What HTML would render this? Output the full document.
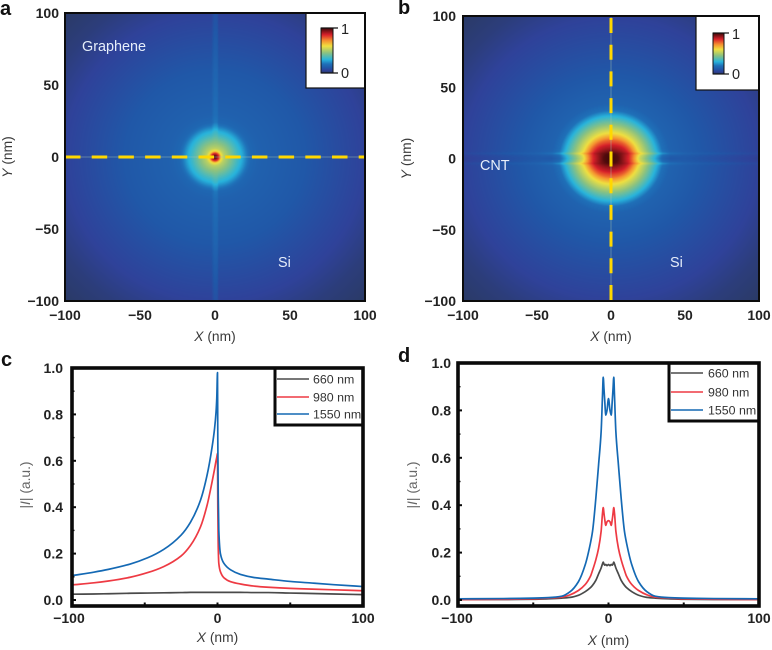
<!DOCTYPE html>
<html>
<head>
<meta charset="utf-8">
<style>
html,body{margin:0;padding:0;background:#fff;width:772px;height:650px;overflow:hidden}
#wrap{position:relative;width:772px;height:650px}
canvas{position:absolute;display:block}
svg{position:absolute;left:0;top:0}
text{font-family:"Liberation Sans",sans-serif}
</style>
</head>
<body>
<div id="wrap">
<canvas id="fieldA" style="left:65px;top:13px" width="300" height="288"></canvas>
<canvas id="fieldB" style="left:463px;top:16px" width="296" height="285"></canvas>
<svg id="fig" xmlns="http://www.w3.org/2000/svg" width="772" height="650" viewBox="0 0 772 650"></svg>
</div>
<script>
// Colour map
const colorStops = [0, 0.06, 0.12, 0.2, 0.3, 0.45, 0.6, 0.72, 0.85, 1];
const colorValues = ['#2a3a66', '#2f429a', '#2058a8', '#1f70b8', '#28b4dc', '#8cc280', '#f0e040', '#f59030', '#d8202a', '#3a0808'];

// Panel a: radial field profile
const fieldARadii = [0, 1.5, 2.7, 4, 6, 11, 15, 18, 21, 24, 30, 40, 60, 80, 100, 120, 142];
const fieldALevels = [1, 0.92, 0.82, 0.62, 0.52, 0.42, 0.34, 0.29, 0.22, 0.17, 0.15, 0.14, 0.12, 0.09, 0.06, 0.025, 0];
const streakAOffsets = [-2.5, -0.5, 1.5, 2.5];
const streakALevels = [0, 0.04, 0.04, 0];

// Panel b: radial field profile
const fieldBRadii = [0, 5, 8, 12, 15, 19, 25, 31, 35, 40, 60, 80, 100, 120, 142];
const fieldBLevels = [1, 0.98, 0.93, 0.86, 0.76, 0.6, 0.45, 0.3, 0.2, 0.155, 0.12, 0.09, 0.06, 0.025, 0];
const stretchRadii = [0, 5, 13, 18, 30, 142];
const stretchValues = [1.45, 1.45, 1.15, 1.06, 1.04, 1];
const bandOffsets = [0, 2, 3.5, 5, 7];
const bandLevels = [-0.04, -0.015, 0.05, 0.005, 0];
const bandWeightX = [0, 14, 18, 36, 50, 100];
const bandWeights = [0, 0.5, 1, 1, 0.35, 0.25];

// Panel c series
const xC = [-100,-85,-75,-60,-48,-37,-25,-18.6,-11.7,-7.1,-3.7,-2,-1,-0.5,0,0.2,0.5,0.9,2,4.4,9,15.8,25,35,50,65,80,100];
const c660 = [.025,.026,.027,.029,.03,.031,.032,.033,.033,.033,.033,.033,.033,.033,.033,.033,.033,.033,.033,.033,.033,.033,.032,.032,.03,.028,.026,.023];
const c980 = [.065,.074,.082,.098,.118,.144,.19,.235,.315,.41,.51,.565,.6,.615,.632,.4,.23,.158,.122,.096,.079,.069,.06,.055,.05,.047,.044,.04];
const c1550 = [.105,.12,.132,.155,.182,.218,.28,.335,.43,.54,.66,.74,.81,.87,.98,.7,.45,.3,.2,.158,.13,.11,.097,.09,.08,.073,.066,.058];

// Panel d series
const xD = [-100,-70,-50,-40,-31,-25.5,-20,-15.5,-12,-10.6,-8.4,-6.6,-4.9,-4,-3.5,-3,-2.5,-1.8,-1,0,1,1.8,2.5,3,3.5,4,4.9,6.6,8.4,10.6,12,15.5,20,25.5,31,40,50,70,100];
const d660 = [.002,.002,.003,.005,.008,.011,.02,.035,.052,.062,.083,.11,.135,.152,.16,.152,.147,.15,.145,.15,.145,.15,.147,.152,.16,.152,.135,.11,.083,.062,.052,.035,.02,.011,.008,.005,.003,.002,.002];
const d980 = [.002,.003,.005,.008,.012,.022,.04,.065,.1,.125,.17,.218,.29,.365,.39,.365,.34,.315,.33,.335,.33,.315,.34,.365,.39,.365,.29,.218,.17,.125,.1,.065,.04,.022,.012,.008,.005,.003,.002];
const d1550 = [.005,.006,.008,.01,.016,.035,.077,.148,.24,.29,.43,.57,.71,.86,.94,.89,.84,.78,.8,.85,.8,.78,.84,.89,.94,.86,.71,.57,.43,.29,.24,.148,.077,.035,.016,.01,.008,.006,.005];

// Tick labels
const fieldTicks = [-100, -50, 0, 50, 100];
const lineYTicks = [0, 0.2, 0.4, 0.6, 0.8, 1.0];
const lineYMinor = [0.1, 0.3, 0.5, 0.7, 0.9];
const lineXLabels = [-100, 0, 100];
const lineXTicks = [-50, 0, 50];
const legendLabels = ['660 nm', '980 nm', '1550 nm'];
const seriesColors = ['#4a4a4a', '#ee3a43', '#1469b4'];

const NS = 'http://www.w3.org/2000/svg';
const fig = document.getElementById('fig');

function lerpTable(xs, ys, x) {
  if (x <= xs[0]) return ys[0];
  for (let i = 1; i < xs.length; i++) {
    if (x <= xs[i]) return ys[i-1] + (ys[i]-ys[i-1]) * (x-xs[i-1]) / (xs[i]-xs[i-1]);
  }
  return ys[ys.length-1];
}
function hexRgb(h) {
  return [parseInt(h.substr(1,2),16), parseInt(h.substr(3,2),16), parseInt(h.substr(5,2),16)];
}
const colorRgb = colorValues.map(hexRgb);
function colorAt(v) {
  const t = Math.max(0, Math.min(1, v));
  return [0,1,2].map(function (k) {
    return lerpTable(colorStops, colorRgb.map(function (c) { return c[k]; }), t);
  });
}
function paint(id, levelFn) {
  const cv = document.getElementById(id);
  const ctx = cv.getContext('2d');
  const W = cv.width, H = cv.height;
  const img = ctx.createImageData(W, H);
  for (let j = 0; j < H; j++) {
    for (let i = 0; i < W; i++) {
      const x = -100 + 200 * (i + 0.5) / W;
      const y = 100 - 200 * (j + 0.5) / H;
      const c = colorAt(levelFn(x, y));
      const p = (j * W + i) * 4;
      img.data[p] = c[0]; img.data[p+1] = c[1]; img.data[p+2] = c[2]; img.data[p+3] = 255;
    }
  }
  ctx.putImageData(img, 0, 0);
}
paint('fieldA', function (x, y) {
  const r = Math.sqrt(x*x + y*y);
  let v = lerpTable(fieldARadii, fieldALevels, r);
  const fade = Math.min(1, Math.max(0, (Math.abs(y) - 8) / 12));
  v += lerpTable(streakAOffsets, streakALevels, x) * fade;
  return v;
});
paint('fieldB', function (x, y) {
  const r0 = Math.sqrt(x*x + y*y);
  const s = lerpTable(stretchRadii, stretchValues, r0);
  const r = Math.sqrt(x*x + s*s*y*y);
  let v = lerpTable(fieldBRadii, fieldBLevels, r);
  const w = lerpTable(bandWeightX, bandWeights, Math.abs(x));
  v += lerpTable(bandOffsets, bandLevels, Math.abs(y)) * w;
  return v;
});

function txt(parent, x, y, str, size, weight, fill, anchor) {
  const t = document.createElementNS(NS, 'text');
  t.setAttribute('x', x);
  t.setAttribute('y', y);
  t.setAttribute('font-size', size);
  t.setAttribute('font-weight', weight);
  t.setAttribute('fill', fill);
  t.setAttribute('text-anchor', anchor);
  t.textContent = str;
  parent.appendChild(t);
  return t;
}
function fmtTick(v) { return String(v).replace('-', '\u2212'); }
function scale(d0, d1, p0, p1) { return function (v) { return p0 + (v - d0) * (p1 - p0) / (d1 - d0); }; }

// Monotone cubic path (no overshoot, keeps sharp peaks)
function monotonePath(px, py) {
  const n = px.length;
  const m = [];
  const d = [];
  for (let i = 0; i < n - 1; i++) d.push((py[i+1]-py[i]) / (px[i+1]-px[i]));
  m.push(d[0]);
  for (let i = 1; i < n - 1; i++) {
    if (d[i-1] * d[i] <= 0) { m.push(0); continue; }
    const h0 = px[i]-px[i-1], h1 = px[i+1]-px[i];
    m.push(3 * (h0 + h1) / ((2*h1 + h0) / d[i-1] + (h1 + 2*h0) / d[i]));
  }
  m.push(d[n-2]);
  let out = 'M' + px[0].toFixed(2) + ' ' + py[0].toFixed(2);
  for (let i = 0; i < n - 1; i++) {
    const h = (px[i+1]-px[i]) / 3;
    out += 'C' + (px[i]+h).toFixed(2) + ' ' + (py[i]+m[i]*h).toFixed(2) + ' ' +
      (px[i+1]-h).toFixed(2) + ' ' + (py[i+1]-m[i+1]*h).toFixed(2) + ' ' +
      px[i+1].toFixed(2) + ' ' + py[i+1].toFixed(2);
  }
  return out;
}

function axisTitle(g, x, y, italicPart, prefix, suffix, rotate, fill) {
  const t = document.createElementNS(NS, 'text');
  t.setAttribute('font-size', '13.8');
  t.setAttribute('fill', fill);
  t.setAttribute('text-anchor', 'middle');
  if (rotate) t.setAttribute('transform', 'translate(' + x + ',' + y + ') rotate(-90)');
  else { t.setAttribute('x', x); t.setAttribute('y', y); }
  if (prefix) t.appendChild(document.createTextNode(prefix));
  const ts = document.createElementNS(NS, 'tspan');
  ts.setAttribute('font-style', 'italic');
  ts.textContent = italicPart;
  t.appendChild(ts);
  t.appendChild(document.createTextNode(suffix));
  g.appendChild(t);
  return t;
}

function group(parent) {
  const g = document.createElementNS(NS, 'g');
  parent.appendChild(g);
  return g;
}
function rect(parent, x, y, w, h, fill, stroke, sw) {
  const r = document.createElementNS(NS, 'rect');
  r.setAttribute('x', x);
  r.setAttribute('y', y);
  r.setAttribute('width', w);
  r.setAttribute('height', h);
  r.setAttribute('fill', fill);
  if (stroke) { r.setAttribute('stroke', stroke); r.setAttribute('stroke-width', sw); }
  parent.appendChild(r);
  return r;
}
function line(parent, x1, y1, x2, y2, stroke, sw, dash) {
  const l = document.createElementNS(NS, 'line');
  l.setAttribute('x1', x1);
  l.setAttribute('y1', y1);
  l.setAttribute('x2', x2);
  l.setAttribute('y2', y2);
  l.setAttribute('stroke', stroke);
  l.setAttribute('stroke-width', sw);
  if (dash) l.setAttribute('stroke-dasharray', dash);
  parent.appendChild(l);
  return l;
}

// Colour bar gradient
const defs = document.createElementNS(NS, 'defs');
const grad = document.createElementNS(NS, 'linearGradient');
grad.setAttribute('id', 'cbar');
grad.setAttribute('x1', '0'); grad.setAttribute('y1', '1');
grad.setAttribute('x2', '0'); grad.setAttribute('y2', '0');
colorStops.forEach(function (s, i) {
  const st = document.createElementNS(NS, 'stop');
  st.setAttribute('offset', s);
  st.setAttribute('stop-color', colorValues[i]);
  grad.appendChild(st);
});
defs.appendChild(grad);
fig.appendChild(defs);

function fieldPanel(cfg) {
  const g = group(fig);
  
  
  const X = scale(-100, 100, cfg.x0, cfg.x1);
  const Y = scale(-100, 100, cfg.y1, cfg.y0);

  // faint guide under the dashes, then dashed cut line
  const guide = cfg.horizontal
    ? line(g, X(-100), Y(0), X(100), Y(0), 'rgba(165,195,175,0.45)', 1)
    : line(g, X(0), Y(100), X(0), Y(-100), 'rgba(165,195,175,0.45)', 1);
  
  
  const cut = cfg.horizontal
    ? line(g, X(-100), Y(0), X(100), Y(0), '#ffd800', 3, '15.5 11.2')
    : line(g, X(0), Y(100) + 2, X(0), Y(-100), '#ffd800', 3, '15 11.7');
  
  

  // inset
  const inset = rect(g, cfg.inset[0], cfg.inset[1], cfg.inset[2], cfg.inset[3], '#fff', '#111', 1.2);
  
  
  const bar = rect(g, cfg.bar[0], cfg.bar[1], cfg.bar[2], cfg.bar[3], 'url(#cbar)', '#111', 1);
  
  
  line(g, cfg.bar[0], cfg.bar[1], cfg.bar[0] + cfg.bar[2] + 5, cfg.bar[1], '#111', 1.2);
  line(g, cfg.bar[0], cfg.bar[1] + cfg.bar[3], cfg.bar[0] + cfg.bar[2] + 5, cfg.bar[1] + cfg.bar[3], '#111', 1.2);
  const hi = txt(g, cfg.bar[0] + cfg.bar[2] + 8, cfg.bar[1] + 6, '1', 14.5, 'normal', '#222', 'start');
  
  
  const lo = txt(g, cfg.bar[0] + cfg.bar[2] + 8, cfg.bar[1] + cfg.bar[3] + 5, '0', 14.5, 'normal', '#222', 'start');
  
  

  // frame
  const frame = rect(g, cfg.x0, cfg.y0, cfg.x1 - cfg.x0, cfg.y1 - cfg.y0, 'none', '#0c0c0c', 2);
  
  

  fieldTicks.forEach(function (v) {
    const a = txt(g, X(v), cfg.xLabelY, fmtTick(v), 14, 'bold', '#222', 'middle');
    
    
    const b = txt(g, cfg.yLabelX, Y(v) + 5, fmtTick(v), 14, 'bold', '#222', 'end');
    
    
  });
  const xt = axisTitle(g, X(0), cfg.xTitleY, 'X', '', ' (nm)', false, '#3a3a3a');
  
  
  const yt = axisTitle(g, cfg.yTitleX, (cfg.y0 + cfg.y1) / 2, 'Y', '', ' (nm)', true, '#3a3a3a');
  
  
  cfg.notes.forEach(function (n) {
    const t = txt(g, n[0], n[1], n[2], 14.4, 'normal', '#e6eefa', 'start');
    
    
  });
  const pl = txt(g, cfg.letter[0], cfg.letter[1], cfg.letter[2], 20, 'bold', '#111', 'start');
  
  
}

fieldPanel({name:'panel-a', x0:65, x1:365, y0:13, y1:301, horizontal:true,
  inset:[306,13,59,75], bar:[321,28,12,45], xLabelY:320, yLabelX:59, xTitleY:341, yTitleX:12,
  notes:[[82,51,'Graphene'],[278,267,'Si']], letter:[0,15,'a']});
fieldPanel({name:'panel-b', x0:463, x1:759, y0:16, y1:301, horizontal:false,
  inset:[696,16,63,74], bar:[713,33,11,41], xLabelY:320, yLabelX:456, xTitleY:341, yTitleX:411,
  notes:[[480,170,'CNT'],[670,267,'Si']], letter:[398,14,'b']});

function linePanel(cfg) {
  const g = group(fig);
  
  
  const X = scale(-100, 100, cfg.x0, cfg.x1);
  const Y = scale(0, 1, cfg.yZero, cfg.yOne);

  cfg.series.forEach(function (vals, i) {
    const p = document.createElementNS(NS, 'path');
    p.setAttribute('d', monotonePath(cfg.xs.map(X), vals.map(Y)));
    p.setAttribute('fill', 'none');
    p.setAttribute('stroke', seriesColors[i]);
    p.setAttribute('stroke-width', '1.7');
    p.setAttribute('stroke-linejoin', 'round');
    
    
    g.appendChild(p);
  });

  // legend
  const lg = group(g);
  
  
  rect(lg, cfg.legend[0], cfg.legend[1], cfg.legend[2], cfg.legend[3], '#fff', '#0a0a0a', 3);
  legendLabels.forEach(function (lab, i) {
    const ly = cfg.legendRows[i];
    const sw = line(lg, cfg.legendLine[0], ly, cfg.legendLine[1], ly, seriesColors[i], 1.6);
    
    
    const t = txt(lg, cfg.legendText, ly + 4.5, lab, 12.4, 'normal', '#333', 'start');
    
    
  });

  // frame
  const frame = rect(g, cfg.x0, cfg.y0, cfg.x1 - cfg.x0, cfg.y1 - cfg.y0, 'none', '#0a0a0a', 3.6);
  
  

  lineYTicks.forEach(function (v) {
    const tk = line(g, cfg.x0, Y(v), cfg.x0 + 4, Y(v), '#0a0a0a', 2);
    
    
    const t = txt(g, cfg.yLabelX, Y(v) + 5, v.toFixed(1), 14, 'bold', '#222', 'end');
    
    
  });
  lineYMinor.forEach(function (v) {
    const tk = line(g, cfg.x0, Y(v), cfg.x0 + 2.5, Y(v), '#0a0a0a', 1.4);
    
    
  });
  lineXTicks.forEach(function (v) {
    const tk = line(g, X(v), cfg.y1, X(v), cfg.y1 - 3.5, '#0a0a0a', 2);
    
    
  });
  lineXLabels.forEach(function (v) {
    const t = txt(g, v === -100 ? X(v) - cfg.leftShift : X(v), 623, fmtTick(v), 14, 'bold', '#222', 'middle');
    
    
  });
  const xt = axisTitle(g, X(0), cfg.xTitleY, 'X', '', ' (nm)', false, '#3a3a3a');
  
  
  const yt = axisTitle(g, cfg.yTitleX, 485, 'I', '|', '| (a.u.)', true, '#666');
  
  
  const pl = txt(g, cfg.letter[0], cfg.letter[1], cfg.letter[2], 20, 'bold', '#111', 'start');
  
  
}

linePanel({name:'panel-c', x0:72, x1:363, y0:368, y1:606, yZero:600, yOne:368,
  xs:xC, series:[c660, c980, c1550], leftShift:3,
  legend:[275,368,88,57], legendLine:[277,309], legendRows:[379,397,414], legendText:313,
  yLabelX:63, xTitleY:642, yTitleX:30, letter:[1,366,'c']});
linePanel({name:'panel-d', x0:458, x1:759, y0:363, y1:606, yZero:600, yOne:363,
  xs:xD, series:[d660, d980, d1550], leftShift:1,
  legend:[669,363,90,58], legendLine:[671,703], legendRows:[373,392,410], legendText:708,
  yLabelX:451, xTitleY:645, yTitleX:417, letter:[398,362,'d']});
</script>
</body>
</html>
